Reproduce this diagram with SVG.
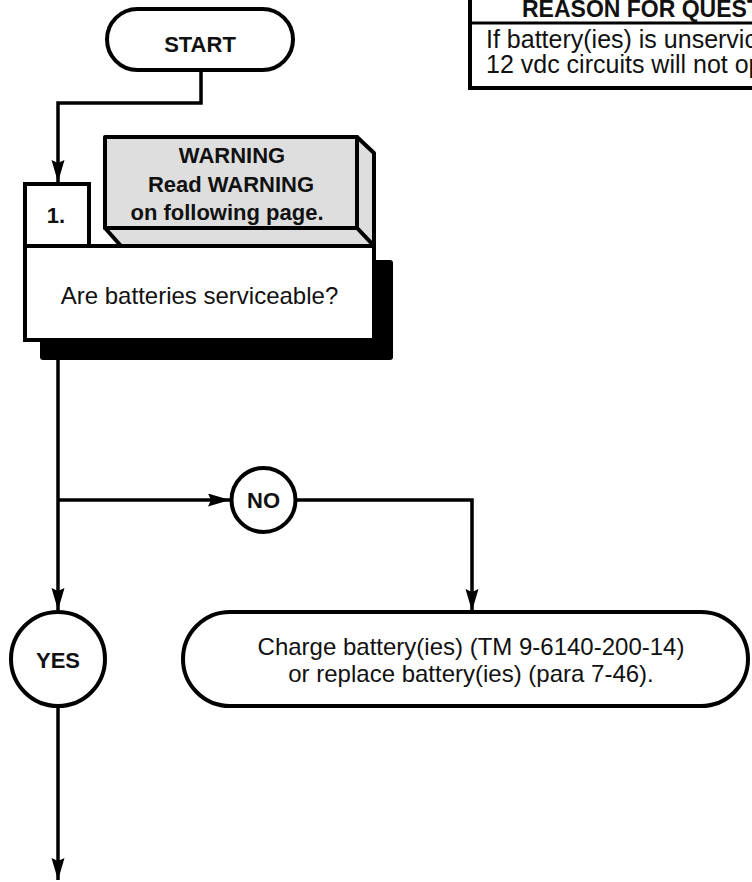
<svg xmlns="http://www.w3.org/2000/svg" width="752" height="882" viewBox="0 0 752 882">
<style>
.sh{fill:#fff;stroke:#000;stroke-width:4}
.gr{fill:#dedede;stroke:#000;stroke-width:4;stroke-linejoin:round}
.ln{fill:none;stroke:#000;stroke-width:3.5}
.t{font-family:"Liberation Sans",Arial,sans-serif;font-size:24px;fill:#111}
.b{font-family:"Liberation Sans",Arial,sans-serif;font-size:22px;font-weight:bold;fill:#111}
.m{text-anchor:middle}
</style>
<defs>
<marker id="ah" markerUnits="userSpaceOnUse" markerWidth="24" markerHeight="14" refX="22" refY="6.5" orient="auto">
<path d="M0,0 L22,6.5 L0,13 L3,6.5 z" fill="#000"/>
</marker>
</defs>
<g id="connectors">
<path class="ln" d="M201,72 V103 H58 V182" marker-end="url(#ah)"/>
<path class="ln" d="M58,360 V610" marker-end="url(#ah)"/>
<path class="ln" d="M58,500 H230" marker-end="url(#ah)"/>
<path class="ln" d="M296,500 H472 V611" marker-end="url(#ah)"/>
<path class="ln" d="M58,707 V880" marker-end="url(#ah)"/>
</g>
<g id="start">
<rect class="sh" x="107" y="9" width="186" height="61" rx="30.5"/>
<text class="b m" x="200" y="52">START</text>
</g>
<g id="reason">
<rect class="sh" x="470" y="-10" width="300" height="98"/>
<line x1="470" y1="23" x2="770" y2="23" stroke="#000" stroke-width="3"/>
<text class="b" x="522" y="17" style="font-size:23px">REASON FOR QUESTION</text>
<text class="t" x="486" y="48" style="font-size:25px">If battery(ies) is unserviceable,</text>
<text class="t" x="486" y="73" style="font-size:25px">12 vdc circuits will not operate.</text>
</g>
<g id="step1">
<rect x="40" y="260" width="353" height="100" rx="3" fill="#000"/>
<rect class="sh" x="25" y="184" width="64" height="62"/>
<text class="b m" x="56" y="223">1.</text>
<rect class="sh" x="25" y="246" width="349" height="94"/>
<text class="t m" x="199.5" y="304">Are batteries serviceable?</text>
</g>
<g id="warning">
<polygon class="gr" points="357,137 374,153 374,246 357,228"/>
<polygon class="gr" points="105,228 357,228 374,246 121,246"/>
<rect class="gr" x="105" y="137" width="252" height="91"/>
<text class="b m" x="232" y="163">WARNING</text>
<text class="b m" x="231" y="192">Read WARNING</text>
<text class="b m" x="227" y="220">on following page.</text>
</g>
<g id="no">
<circle class="sh" cx="263.5" cy="500" r="32" stroke-width="3.5"/>
<text class="b m" x="263.5" y="508">NO</text>
</g>
<g id="yes">
<circle class="sh" cx="58" cy="659" r="47"/>
<text class="b m" x="58" y="668">YES</text>
</g>
<g id="charge">
<rect class="sh" x="183" y="612" width="565" height="94" rx="47"/>
<text class="t m" x="471" y="655">Charge battery(ies) (TM 9-6140-200-14)</text>
<text class="t m" x="471" y="682">or replace battery(ies) (para 7-46).</text>
</g>
</svg>
